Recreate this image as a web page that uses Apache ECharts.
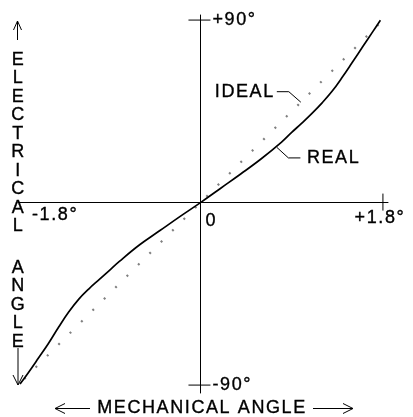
<!DOCTYPE html>
<html><head><meta charset="utf-8">
<script src="https://cdn.jsdelivr.net/npm/echarts@6/dist/echarts.min.js"></script>
<style>html,body{margin:0;padding:0;background:#fff}#c{width:413px;height:417px}</style>
</head><body><div id="c"></div>
<script>
// ---- data ----
const realX = [-1.78, -1.7, -1.6, -1.5, -1.4, -1.3, -1.2, -1.1, -1.0, -0.9, -0.8, -0.6, -0.4, -0.2, 0, 0.2, 0.4, 0.6, 0.8, 0.9, 1.0, 1.1, 1.2, 1.3, 1.4, 1.5, 1.6, 1.7, 1.775];
const realY = [-89.5, -84, -76.8, -69.5, -61.5, -54, -47.6, -42.5, -38, -33.5, -29, -20.8, -13.8, -6.8, 0, 7.1, 14.2, 21.6, 29.8, 34.6, 39.2, 44, 49.2, 55, 61.9, 69.3, 76.8, 84.3, 89.9];
const idealX = [-1.8, 1.8];
const idealY = [-90, 90];
const xTickValues = [1.8];
const yTickValues = [90, -90];
const xLabelValues = [-1.8, 0, 1.8];
const xLabelTexts = ['-1.8°', '0', '+1.8°'];
const yLabelValues = [90, -90];
const yLabelTexts = ['+90°', '-90°'];
const calloutTexts = ['IDEAL', 'REAL'];
const calloutX = [0.99, 0.754];
const calloutY = [49.5, 27.2];
const yTitleTop = 'ELECTRICAL';
const yTitleBottom = 'ANGLE';
const xTitle = 'MECHANICAL ANGLE';

// wide letter spacing as in the original lettering
(function () {
  const p = CanvasRenderingContext2D.prototype;
  ['fillText', 'strokeText'].forEach(function (k) {
    const f = p[k];
    p[k] = function () { try { this.letterSpacing = '1.6px'; } catch (e) {} return f.apply(this, arguments); };
  });
})();

const FONT = '18px "Liberation Sans", Arial, sans-serif';
const INK = '#000';
const TXT = { fill: INK, stroke: INK, lineWidth: 0.35 };

function txt(x, y, text, align, valign) {
  return { type: 'text', x: x, y: y, style: Object.assign({ text: text, font: FONT,
    align: align, verticalAlign: valign, textAlign: align, textVerticalAlign: valign }, TXT) };
}

const xLabelLayout = [
  { dx: 14, dy: 12, align: 'left' },
  { dx: 5, dy: 18.5, align: 'left' },
  { dx: -3, dy: 15.5, align: 'center' }
];
const calloutLayout = [
  { line: [[-24, -10.5], [-12, -10.5], [0, 0]], tx: -26, ty: -10.5, align: 'right' },
  { line: [[0, 0], [11.5, 10.5], [23.5, 10.5]], tx: 30, ty: 10.5, align: 'left' }
];

const chart = echarts.init(document.getElementById('c'), null, { renderer: 'canvas' });
const option = {
  animation: false,
  backgroundColor: '#fff',
  grid: { left: 18, right: 25, top: 15, bottom: 24 },
  xAxis: {
    type: 'value', min: -1.8, max: 1.85,
    axisLine: { show: true, onZero: true, lineStyle: { color: INK, width: 1 } },
    axisTick: { show: false }, axisLabel: { show: false }, splitLine: { show: false }
  },
  yAxis: {
    type: 'value', min: -93.9, max: 92.5,
    axisLine: { show: true, onZero: true, lineStyle: { color: INK, width: 1 } },
    axisTick: { show: false }, axisLabel: { show: false }, splitLine: { show: false }
  },
  series: [
    {
      name: 'IDEAL', type: 'line', silent: true,
      data: idealX.map((x, i) => [x, idealY[i]]),
      showSymbol: false,
      lineStyle: { color: '#808080', width: 2.2, type: [2, 14.1], dashOffset: 7.3, cap: 'butt' }
    },
    {
      name: 'REAL', type: 'line', silent: true,
      data: realX.map((x, i) => [x, realY[i]]),
      showSymbol: false, smooth: 0.4,
      lineStyle: { color: INK, width: 1.7 }
    },
    {
      type: 'custom', silent: true, clip: false,
      data: xTickValues.map(v => [v, 0]),
      renderItem: (params, api) => {
        const p = api.coord([api.value(0), 0]);
        return { type: 'line', shape: { x1: p[0], y1: p[1] - 9, x2: p[0], y2: p[1] + 8 }, style: { stroke: INK, lineWidth: 1 } };
      }
    },
    {
      type: 'custom', silent: true, clip: false,
      data: yTickValues.map(v => [0, v]),
      renderItem: (params, api) => {
        const p = api.coord([0, api.value(1)]);
        return { type: 'line', shape: { x1: p[0] - 12, y1: p[1], x2: p[0] + 10, y2: p[1] }, style: { stroke: INK, lineWidth: 1 } };
      }
    },
    {
      type: 'custom', silent: true, clip: false,
      data: xLabelValues.map(v => [v, 0]),
      renderItem: (params, api) => {
        const i = params.dataIndex, L = xLabelLayout[i];
        const p = api.coord([api.value(0), 0]);
        return txt(p[0] + L.dx, p[1] + L.dy, xLabelTexts[i], L.align, 'middle');
      }
    },
    {
      type: 'custom', silent: true, clip: false,
      data: yLabelValues.map(v => [0, v]),
      renderItem: (params, api) => {
        const i = params.dataIndex;
        const p = api.coord([0, api.value(1)]);
        return txt(p[0] + 12, p[1], yLabelTexts[i], 'left', 'middle');
      }
    },
    {
      type: 'custom', silent: true, clip: false,
      data: calloutX.map((x, i) => [x, calloutY[i]]),
      renderItem: (params, api) => {
        const i = params.dataIndex, L = calloutLayout[i];
        const p = api.coord([api.value(0), api.value(1)]);
        return {
          type: 'group',
          children: [
            { type: 'polyline', shape: { points: L.line.map(q => [p[0] + q[0], p[1] + q[1]]) }, style: { stroke: INK, lineWidth: 1, fill: null } },
            txt(p[0] + L.tx, p[1] + L.ty, calloutTexts[i], L.align, 'middle')
          ]
        };
      }
    }
  ],
  graphic: [
    { type: 'text', x: 18.5, y: 50.75, style: Object.assign({ text: yTitleTop.split('').join('\n'), font: FONT, lineHeight: 18.5, align: 'center', verticalAlign: 'top', textAlign: 'center', textVerticalAlign: 'top' }, TXT) },
    { type: 'text', x: 18.5, y: 258.75, style: Object.assign({ text: yTitleBottom.split('').join('\n'), font: FONT, lineHeight: 18.5, align: 'center', verticalAlign: 'top', textAlign: 'center', textVerticalAlign: 'top' }, TXT) },
    { type: 'text', x: 202, y: 408.5, style: Object.assign({ text: xTitle, font: FONT, align: 'center', verticalAlign: 'middle', textAlign: 'center', textVerticalAlign: 'middle' }, TXT) },
    // up arrow
    { type: 'line', shape: { x1: 17.5, y1: 40, x2: 17.5, y2: 21 }, style: { stroke: INK, lineWidth: 1 } },
    { type: 'polyline', shape: { points: [[13.5, 30], [17.5, 21], [21.5, 30]] }, style: { stroke: INK, lineWidth: 1, fill: null } },
    // down arrow
    { type: 'line', shape: { x1: 18, y1: 348, x2: 18, y2: 385 }, style: { stroke: INK, lineWidth: 1 } },
    { type: 'polyline', shape: { points: [[13, 375], [18, 385], [23, 375]] }, style: { stroke: INK, lineWidth: 1, fill: null } },
    // left arrow
    { type: 'line', shape: { x1: 55, y1: 408.5, x2: 90, y2: 408.5 }, style: { stroke: INK, lineWidth: 1 } },
    { type: 'polyline', shape: { points: [[65, 403.5], [55, 408.5], [65, 413.5]] }, style: { stroke: INK, lineWidth: 1, fill: null } },
    // right arrow
    { type: 'line', shape: { x1: 313, y1: 408.5, x2: 353, y2: 408.5 }, style: { stroke: INK, lineWidth: 1 } },
    { type: 'polyline', shape: { points: [[343, 403.5], [353, 408.5], [343, 413.5]] }, style: { stroke: INK, lineWidth: 1, fill: null } }
  ]
};
chart.setOption(option);
</script>
</body></html>
